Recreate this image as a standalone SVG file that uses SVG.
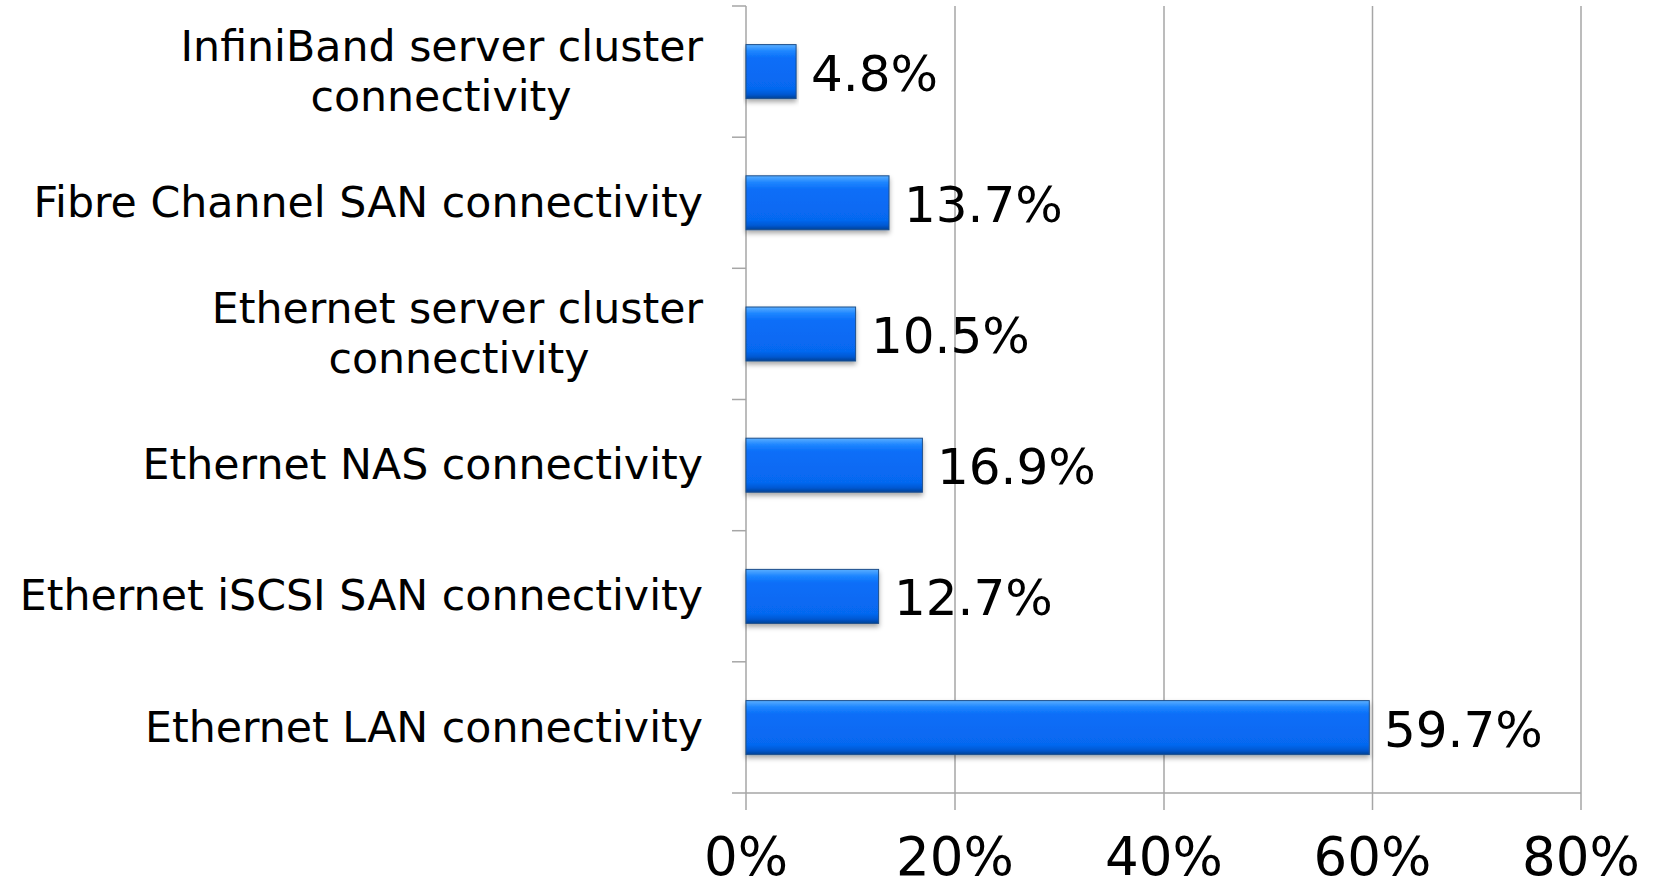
<svg xmlns="http://www.w3.org/2000/svg" width="1655" height="884" viewBox="0 0 1655 884">
<style>
.cat{font-family:Verdana,"DejaVu Sans",sans-serif;font-size:42.7px;fill:#000}
.val{font-family:Verdana,"DejaVu Sans",sans-serif;font-size:50px;fill:#000}
.tick{font-family:Verdana,"DejaVu Sans",sans-serif;font-size:53px;fill:#000;text-anchor:middle}
.grid{stroke:#a6a6a6;stroke-width:1.5;fill:none}
.bar{fill:url(#barg);stroke:#1d4f8c;stroke-width:1;filter:url(#sh)}
</style>
<defs>
<linearGradient id="barg" x1="0" y1="0" x2="0" y2="1">
<stop offset="0" stop-color="#5aaeff"/>
<stop offset="0.12" stop-color="#1e86ff"/>
<stop offset="0.25" stop-color="#0a6ef8"/>
<stop offset="0.82" stop-color="#0668f0"/>
<stop offset="0.92" stop-color="#0558d2"/>
<stop offset="1" stop-color="#034296"/>
</linearGradient>
<filter id="sh" x="-5%" y="-20%" width="110%" height="150%">
<feDropShadow dx="0" dy="3" stdDeviation="2.5" flood-color="#000" flood-opacity="0.35"/>
</filter>
</defs>
<rect width="1655" height="884" fill="#fff"/>
<g id="grid">
<line class="grid" x1="955" y1="6" x2="955" y2="810"/>
<line class="grid" x1="1164" y1="6" x2="1164" y2="810"/>
<line class="grid" x1="1372.5" y1="6" x2="1372.5" y2="810"/>
<line class="grid" x1="1581" y1="6" x2="1581" y2="810"/>
</g>
<g id="axes">
<line class="grid" x1="746" y1="6" x2="746" y2="810"/>
<line class="grid" x1="732" y1="793" x2="1581" y2="793"/>
<line class="grid" x1="732" y1="6" x2="746" y2="6"/>
<line class="grid" x1="732" y1="137.2" x2="746" y2="137.2"/>
<line class="grid" x1="732" y1="268.3" x2="746" y2="268.3"/>
<line class="grid" x1="732" y1="399.5" x2="746" y2="399.5"/>
<line class="grid" x1="732" y1="530.7" x2="746" y2="530.7"/>
<line class="grid" x1="732" y1="661.8" x2="746" y2="661.8"/>
<text class="tick" x="746" y="875">0%</text>
<text class="tick" x="955" y="875">20%</text>
<text class="tick" x="1164" y="875">40%</text>
<text class="tick" x="1372.5" y="875">60%</text>
<text class="tick" x="1581" y="875">80%</text>
</g>
<g id="row-infiniband">
<text class="cat" text-anchor="end" x="703" y="61">InfiniBand server cluster</text>
<text class="cat" text-anchor="middle" x="441" y="111">connectivity</text>
<rect class="bar" x="746" y="44.6" width="50.1" height="54"/>
<text class="val" x="811" y="90.6">4.8%</text>
</g>
<g id="row-fibre">
<text class="cat" text-anchor="end" x="703" y="217">Fibre Channel SAN connectivity</text>
<rect class="bar" x="746" y="175.8" width="143" height="54"/>
<text class="val" x="904" y="221.8">13.7%</text>
</g>
<g id="row-eth-cluster">
<text class="cat" text-anchor="end" x="703" y="323">Ethernet server cluster</text>
<text class="cat" text-anchor="middle" x="459" y="373">connectivity</text>
<rect class="bar" x="746" y="307" width="109.6" height="54"/>
<text class="val" x="871" y="353">10.5%</text>
</g>
<g id="row-nas">
<text class="cat" text-anchor="end" x="703" y="479.2">Ethernet NAS connectivity</text>
<rect class="bar" x="746" y="438.2" width="176.4" height="54"/>
<text class="val" x="937" y="484.2">16.9%</text>
</g>
<g id="row-iscsi">
<text class="cat" text-anchor="end" x="703" y="610.4">Ethernet iSCSI SAN connectivity</text>
<rect class="bar" x="746" y="569.4" width="132.6" height="54"/>
<text class="val" x="894" y="615.4">12.7%</text>
</g>
<g id="row-lan">
<text class="cat" text-anchor="end" x="703" y="741.6">Ethernet LAN connectivity</text>
<rect class="bar" x="746" y="700.6" width="623.3" height="54"/>
<text class="val" x="1384" y="746.6">59.7%</text>
</g>
</svg>
